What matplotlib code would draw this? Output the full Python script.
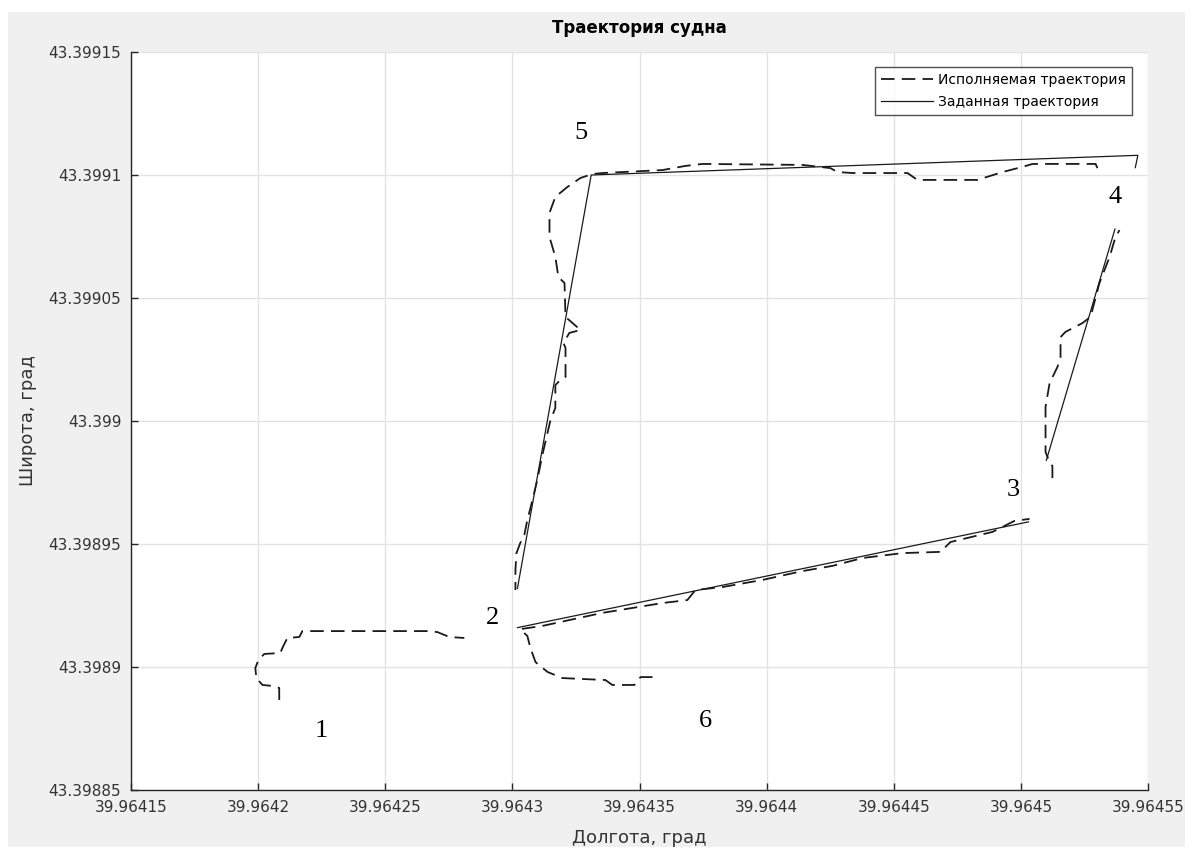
import numpy as np
import matplotlib
matplotlib.use("Agg")
import matplotlib.pyplot as plt
from matplotlib.patches import Rectangle

nan = np.nan

# ---- Data (longitude / latitude, degrees) ----
# Planned (reference) trajectory, NaN separates pieces
planned_lon = [39.964302, 39.964503, nan,
               39.964510, 39.964537, nan,
               39.964545, 39.964546, 39.964331, 39.964302]
planned_lat = [43.398916, 43.398959, nan,
               43.398984, 43.399078, nan,
               43.399103, 43.399108, 43.399100, 43.398932]

# Executed trajectory, NaN separates pieces
exec_lon = [
    # start (1) towards 2
    39.9642083, 39.9642083, 39.9642056, 39.9642017, 39.9641993, 39.9641989,
    39.9642001, 39.9642024, 39.9642087, 39.9642099, 39.9642115, 39.9642162,
    39.9642174, 39.9642666, 39.9642705, 39.9642752, 39.9642811, nan,
    # 6 -> 2 -> 3
    39.9643551, 39.9643504, 39.9643480, 39.9643393, 39.9643366, 39.9643197,
    39.9643138, 39.9643091, 39.9643071, 39.9643059, 39.9643031, 39.9643118,
    39.9643354, 39.9643590, 39.9643688, 39.9643720, 39.9643826, 39.9643984,
    39.9644141, 39.9644259, 39.9644377, 39.9644534, 39.9644684, 39.9644723,
    39.9644888, 39.9644975, 39.9645034, nan,
    # 3 -> 4
    39.9645124, 39.9645124, 39.9645113, 39.9645097, 39.9645097, 39.9645113,
    39.9645144, 39.9645156, 39.9645156, 39.9645175, 39.9645242, 39.9645274,
    39.9645309, 39.9645349, 39.9645372, 39.9645388, nan,
    # 4 -> 5 -> 2
    39.9645301, 39.9645294, 39.9645046, 39.9645006, 39.9644928, 39.9644829,
    39.9644593, 39.9644554, 39.9644338, 39.9644279, 39.9644251, 39.9644141,
    39.9643748, 39.9643681, 39.9643590, 39.9643511, 39.9643354, 39.9643315,
    39.9643268, 39.9643216, 39.9643169, 39.9643146, 39.9643146, 39.9643169,
    39.9643181, 39.9643205, 39.9643209, 39.9643268, 39.9643224, 39.9643201,
    39.9643209, 39.9643209, 39.9643185, 39.9643169, 39.9643169, 39.9643150,
    39.9643138, 39.9643118, 39.9643098, 39.9643079, 39.9643059, 39.9643047,
    39.9643031, 39.9643016, 39.9643012, 39.9643012,
]
exec_lat = [
    43.3988866, 43.3988915, 43.3988923, 43.3988927, 43.3988955, 43.3988996,
    43.3989028, 43.3989053, 43.3989057, 43.3989085, 43.3989118, 43.3989122,
    43.3989146, 43.3989146, 43.3989142, 43.3989122, 43.3989118, nan,
    43.3988959, 43.3988959, 43.3988927, 43.3988927, 43.3988947, 43.3988955,
    43.3988980, 43.3989020, 43.3989077, 43.3989126, 43.3989154, 43.3989167,
    43.3989220, 43.3989260, 43.3989272, 43.3989313, 43.3989325, 43.3989354,
    43.3989390, 43.3989411, 43.3989443, 43.3989463, 43.3989468, 43.3989508,
    43.3989549, 43.3989594, 43.3989602, nan,
    43.3989768, 43.3989817, 43.3989833, 43.3989874, 43.3990057, 43.3990154,
    43.3990220, 43.3990260, 43.3990341, 43.3990362, 43.3990398, 43.3990423,
    43.3990561, 43.3990667, 43.3990748, 43.3990776, nan,
    43.3991028, 43.3991045, 43.3991045, 43.3991033, 43.3991012, 43.3990980,
    43.3990980, 43.3991008, 43.3991008, 43.3991012, 43.3991028, 43.3991041,
    43.3991045, 43.3991037, 43.3991020, 43.3991016, 43.3991008, 43.3991004,
    43.3990988, 43.3990951, 43.3990911, 43.3990846, 43.3990748, 43.3990667,
    43.3990585, 43.3990561, 43.3990423, 43.3990370, 43.3990358, 43.3990317,
    43.3990297, 43.3990179, 43.3990163, 43.3990146, 43.3990053, 43.3990004,
    43.3989951, 43.3989862, 43.3989760, 43.3989679, 43.3989598, 43.3989537,
    43.3989504, 43.3989463, 43.3989394, 43.3989313,
]

# Waypoint labels
point_labels = ["1", "2", "3", "4", "5", "6"]
point_lon = [39.964225, 39.964292, 39.964497, 39.964537, 39.964327, 39.964376]
point_lat = [43.398874, 43.398920, 43.398972, 43.399091, 43.399117, 43.398878]

# Ticks
x_ticks = [39.96415, 39.96420, 39.96425, 39.96430, 39.96435, 39.96440,
           39.96445, 39.96450, 39.96455]
x_tick_labels = ["39.96415", "39.9642", "39.96425", "39.9643", "39.96435",
                 "39.9644", "39.96445", "39.9645", "39.96455"]
y_ticks = [43.39885, 43.39890, 43.39895, 43.39900, 43.39905, 43.39910, 43.39915]
y_tick_labels = ["43.39885", "43.3989", "43.39895", "43.399", "43.39905",
                 "43.3991", "43.39915"]

title = "Траектория судна"
xlabel = "Долгота, град"
ylabel = "Широта, град"
legend_labels = ["Исполняемая траектория", "Заданная траектория"]

# ---- Figure ----
plt.rcParams['font.family'] = ['DejaVu Sans']
plt.rcParams['xtick.direction'] = 'in'
plt.rcParams['ytick.direction'] = 'in'
W, H = 1201, 850
fig = plt.figure(figsize=(W / 100, H / 100), dpi=100, facecolor="white")
fig.patches.append(Rectangle((8 / W, 3 / H), 1177 / W, 835 / H,
                             transform=fig.transFigure, facecolor="#f0f0f0",
                             edgecolor="none", zorder=-10))

ax = fig.add_axes([131 / W, 1 - 790 / H, (1148 - 131) / W, (790 - 52) / H])
ax.set_facecolor("white")

ax.plot(exec_lon, exec_lat, color="#1a1a1a", lw=1.3,
        linestyle=(0, (7.5, 4)), label=legend_labels[0], zorder=3)
ax.plot(planned_lon, planned_lat, color="#1a1a1a", lw=0.9,
        linestyle="-", label=legend_labels[1], zorder=4)

for lab, lx, ly in zip(point_labels, point_lon, point_lat):
    ax.text(lx, ly, lab, fontsize=19, family="Liberation Serif",
            ha="center", va="center", color="black")

ax.set_xlim(x_ticks[0], x_ticks[-1])
ax.set_ylim(y_ticks[0], y_ticks[-1])
ax.set_xticks(x_ticks)
ax.set_xticklabels(x_tick_labels)
ax.set_yticks(y_ticks)
ax.set_yticklabels(y_tick_labels)

ax.grid(True, color="#e3e3e3", lw=1.0, zorder=0)
ax.set_axisbelow(True)
for s in ["top", "right"]:
    ax.spines[s].set_visible(False)
for s in ["left", "bottom"]:
    ax.spines[s].set_color("#262626")
    ax.spines[s].set_linewidth(1.0)
ax.tick_params(direction="in", length=5, width=1, colors="#262626",
               labelcolor="#333333", labelsize=11, pad=7)

ax.set_title(title, fontsize=12, fontweight="bold", color="black", pad=14)
ax.set_xlabel(xlabel, fontsize=13, color="#333333", labelpad=10)
ax.set_ylabel(ylabel, fontsize=13, color="#333333", labelpad=8)

leg = ax.legend(loc="upper right", bbox_to_anchor=(1 - 16 / 1017, 1 - 15 / 738),
                fontsize=10, frameon=True, fancybox=False, edgecolor="#262626",
                handlelength=3.8, handletextpad=0.35, borderpad=0.43,
                labelspacing=0.6, borderaxespad=0.0)
leg.get_frame().set_linewidth(1.0)

fig.savefig("out.png", dpi=100, facecolor=fig.get_facecolor())
